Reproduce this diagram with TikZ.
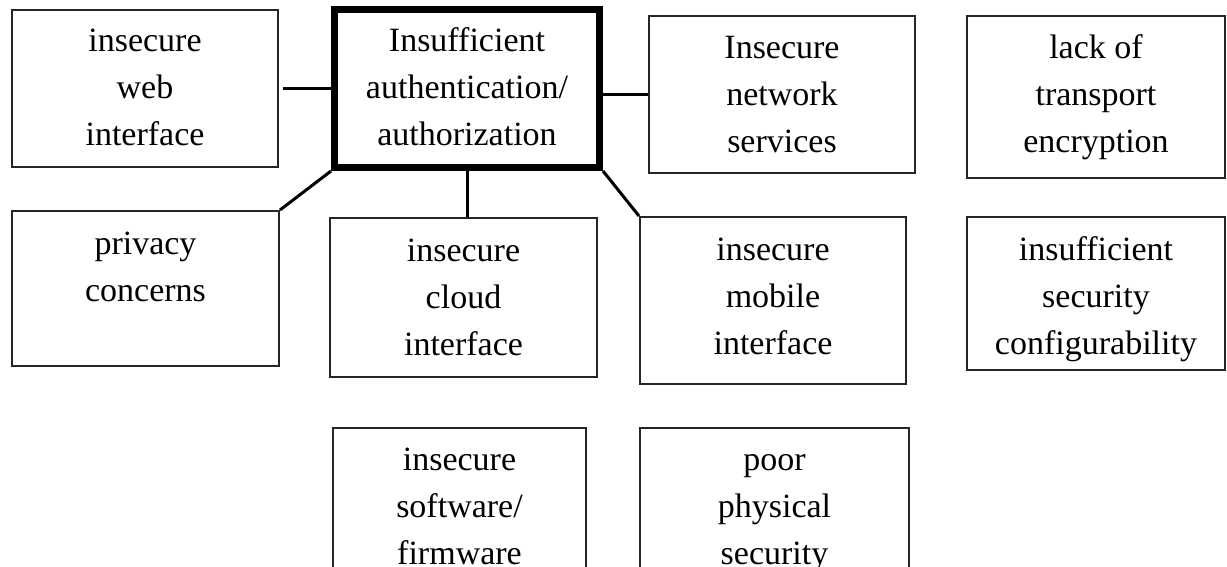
\documentclass[tikz,border=0pt]{standalone}
\usepackage{fontspec}
\setmainfont{Liberation Serif}
\begin{document}
\begin{tikzpicture}[x=1pt,y=-1pt,
  box/.style={draw=black!85, line width=2pt, rectangle, inner sep=0pt, fill=none},
  mainbox/.style={draw=black, line width=7pt, rectangle, inner sep=0pt},
  lbl/.style={anchor=north, inner sep=0pt, align=center, font=\fontsize{34}{47}\selectfont},
  conn/.style={line width=3pt, black}]
\clip (0,0) rectangle (1227,567);
% boxes
\node[box, minimum width=266pt, minimum height=157pt] (web) at (145,88.5) {};
\node[mainbox, minimum width=265pt, minimum height=158pt] (central) at (467,88.5) {};
\node[box, minimum width=266pt, minimum height=157pt] (network) at (782,94.5) {};
\node[box, minimum width=258pt, minimum height=162pt] (transport) at (1096,97) {};
\node[box, minimum width=267pt, minimum height=155pt] (privacy) at (145.5,288.5) {};
\node[box, minimum width=267pt, minimum height=159pt] (cloud) at (463.5,297.5) {};
\node[box, minimum width=266pt, minimum height=167pt] (mobile) at (773,300.5) {};
\node[box, minimum width=258pt, minimum height=153pt] (config) at (1096,293.5) {};
\node[box, minimum width=253pt, minimum height=172pt] (software) at (459.5,514) {};
\node[box, minimum width=269pt, minimum height=172pt] (physical) at (774.5,514) {};
% labels
\node[lbl] (webt) at ([yshift=-9pt]web.north) {\strut insecure\\\strut web\\\strut interface};
\node[lbl] (centralt) at ([yshift=-12pt]central.north) {\strut Insufficient\\\strut authentication/\\\strut authorization};
\node[lbl] (networkt) at ([yshift=-10pt]network.north) {\strut Insecure\\\strut network\\\strut services};
\node[lbl] (transportt) at ([yshift=-10pt]transport.north) {\strut lack of\\\strut transport\\\strut encryption};
\node[lbl] (privacyt) at ([yshift=-11pt]privacy.north) {\strut privacy\\\strut concerns};
\node[lbl] (cloudt) at ([yshift=-11pt]cloud.north) {\strut insecure\\\strut cloud\\\strut interface};
\node[lbl] (mobilet) at ([yshift=-11pt]mobile.north) {\strut insecure\\\strut mobile\\\strut interface};
\node[lbl] (configt) at ([yshift=-11pt]config.north) {\strut insufficient\\\strut security\\\strut configurability};
\node[lbl] (softwaret) at ([yshift=-10pt]software.north) {\strut insecure\\\strut software/\\\strut firmware};
\node[lbl] (physicalt) at ([yshift=-10pt]physical.north) {\strut poor\\\strut physical\\\strut security};
% connectors
\draw[conn, shorten <=4pt] (web.east) -- (central.west);
\draw[conn] (central.east |- network.west) -- (network.west);
\draw[conn] (central.south west) -- (privacy.north east);
\draw[conn] (central.south) -- (central.south |- cloud.north);
\draw[conn] (central.south east) -- (mobile.north west);
\end{tikzpicture}
\end{document}
